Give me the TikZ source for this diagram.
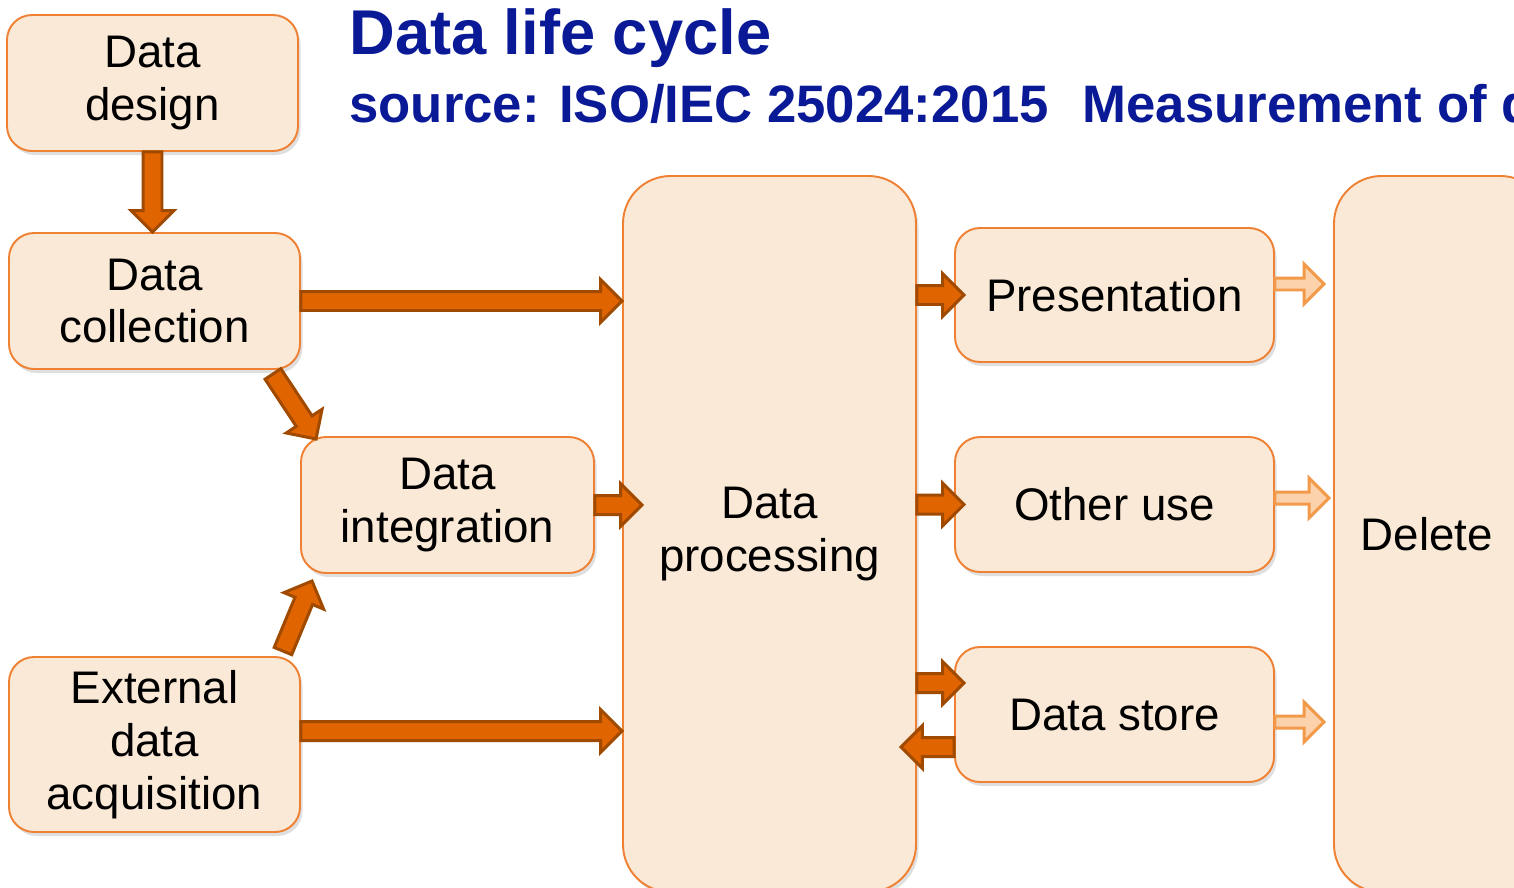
\documentclass[tikz,border=0pt]{standalone}
\usepackage{fontspec}
\setmainfont{Liberation Sans}
\usetikzlibrary{shapes.arrows, shadows, calc, positioning}

\definecolor{boxfill}{HTML}{FAE9D6}
\definecolor{boxline}{HTML}{EE8133}
\definecolor{arrowfill}{HTML}{E06400}
\definecolor{arrowline}{HTML}{A04A00}
\definecolor{fadefill}{HTML}{FBD2AC}
\definecolor{fadeline}{HTML}{F29A4A}
\definecolor{titleblue}{HTML}{0A1996}

\begin{document}
\begin{tikzpicture}[
    box/.style={rectangle, draw=boxline, line width=1.1pt, fill=boxfill, rounded corners=0.5cm,
        align=center, inner sep=0pt, font=\fontsize{26}{30}\selectfont,
        drop shadow={shadow xshift=0.05cm, shadow yshift=-0.08cm, opacity=0.25}},
    tallbox/.style={box, rounded corners=0.95cm},
    darkhead/.style={single arrow, draw=arrowline, fill=arrowfill, line width=1.7pt,
        inner xsep=0pt, inner ysep=0.16cm, outer sep=0pt,
        single arrow head extend=0.24cm, single arrow tip angle=90},
    fadehead/.style={darkhead, draw=fadeline, fill=fadefill, inner ysep=0.09cm,
        single arrow head extend=0.28cm},
    fat/.style={to path={let \p1=(\tikztostart), \p2=(\tikztotarget),
        \n1={atan2(\y2-\y1,\x2-\x1)}, \n2={veclen(\x2-\x1,\y2-\y1)} in
        node[#1, anchor=tail, minimum height=\n2, rotate=\n1] at (\p1) {}}},
    ttl/.style={anchor=base west, text=titleblue, inner sep=0pt}
]
    \useasboundingbox (0,0) rectangle (30.28,-17.74);

    % titles
    \node[ttl, font=\bfseries\fontsize{36}{40}\selectfont] (title) at (6.98,-1.08) {Data life cycle};
    \node[ttl, font=\bfseries\fontsize{30}{34}\selectfont] (source) at (6.98,-2.44)
        {source: ISO/IEC 25024:2015\hspace{0.68cm}Measurement of d};

    % stages
    \node[box, minimum width=5.82cm, minimum height=2.72cm] (design) at (3.05,-1.66) {Data\\design};
    \node[box, minimum width=5.82cm, minimum height=2.72cm] (collection) at (3.09,-6.02) {Data\\collection};
    \node[box, minimum width=5.86cm, minimum height=2.72cm] (integration) at (8.95,-10.1) {Data\\integration};
    \node[box, minimum width=5.82cm, minimum height=3.5cm] (external) at (3.09,-14.89) {External\\data\\acquisition};
    \node[tallbox, minimum width=5.86cm, minimum height=14.32cm] (processing) at (15.39,-10.68) {Data\\processing};
    \node[box, minimum width=6.38cm, minimum height=2.68cm] (presentation) at (22.29,-5.9) {Presentation};
    \node[box, minimum width=6.38cm, minimum height=2.7cm] (otheruse) at (22.29,-10.09) {Other use};
    \node[box, minimum width=6.38cm, minimum height=2.7cm] (store) at (22.29,-14.29) {Data store};
    \node[tallbox, minimum width=4.28cm, minimum height=14.32cm] (delete) at (28.82,-10.68) {Delete\hspace*{0.56cm}};

    % flows into processing
    \path (design.south) to[fat=darkhead] (design.south |- collection.north);
    \path (collection.east) to[fat=darkhead] (collection.east -| processing.west);
    \path ($(collection.south east)+(-0.56,-0.08)$) to[fat=darkhead] ($(integration.north west)+(0.32,-0.06)$);
    \path ($(external.north east)+(-0.36,0.1)$) to[fat=darkhead] ($(integration.south west)+(0.24,-0.14)$);
    \path (integration.east) to[fat=darkhead] ($(integration.east -| processing.west)+(0.4,0)$);
    \path ($(external.east)+(0,0.27)$) to[fat=darkhead] ($(external.east -| processing.west)+(0,0.27)$);

    % flows out of processing
    \path (presentation.west -| processing.east) to[fat=darkhead] ($(presentation.west)+(0.2,0)$);
    \path (otheruse.west -| processing.east) to[fat=darkhead] ($(otheruse.west)+(0.2,0)$);
    \path ($(store.west -| processing.east)+(0,0.63)$) to[fat=darkhead] ($(store.west)+(0.2,0.63)$);
    \path ($(store.west)+(0,-0.65)$) to[fat=darkhead] ($(store.west -| processing.east)+(-0.32,-0.65)$);

    % to delete
    \path ($(presentation.east)+(0,0.22)$) to[fat=fadehead] ($(presentation.east -| delete.west)+(-0.18,0.22)$);
    \path ($(otheruse.east)+(0,0.13)$) to[fat=fadehead] ($(otheruse.east -| delete.west)+(-0.08,0.13)$);
    \path ($(store.east)+(0,-0.15)$) to[fat=fadehead] ($(store.east -| delete.west)+(-0.18,-0.15)$);
\end{tikzpicture}
\end{document}
